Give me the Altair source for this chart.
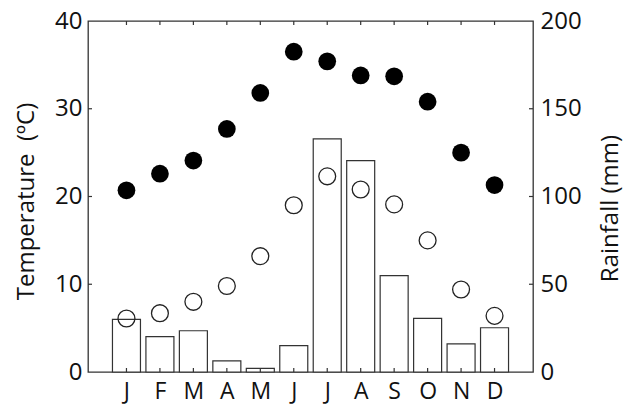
import altair as alt
import pandas as pd

months = ["J", "F", "M", "A", "M", "J", "J", "A", "S", "O", "N", "D"]
tmax = [20.7, 22.6, 24.1, 27.7, 31.8, 36.5, 35.4, 33.8, 33.7, 30.8, 25.0, 21.3]
tmin = [6.1, 6.7, 8.0, 9.8, 13.2, 19.0, 22.3, 20.8, 19.1, 15.0, 9.4, 6.4]
rain = [30.0, 20.1, 23.5, 6.3, 2.1, 15.0, 132.8, 120.4, 54.9, 30.6, 16.0, 25.2]
temp_ticks = [0, 10, 20, 30, 40]
rain_ticks = [0, 50, 100, 150, 200]

FONT = "Open Sans"
INK = "#333333"
TXT = "#111111"

df = pd.DataFrame({
    "idx": list(range(1, len(months) + 1)),
    "month": months,
    "tmax": tmax,
    "tmin": tmin,
    "rain": rain,
})
tdf = pd.DataFrame({"tv": temp_ticks[1:-1]})
rdf = pd.DataFrame({"rv": rain_ticks[1:-1]})

label_expr = "[" + ",".join("'%s'" % m for m in months) + "][datum.value - 1]"

xenc = alt.X(
    "idx:Q",
    scale=alt.Scale(domain=[0, len(months) + 1], nice=False, zero=False),
    axis=alt.Axis(
        values=list(range(1, len(months) + 1)), labelExpr=label_expr,
        ticks=False, domain=False, grid=False, title=None,
        labelFont=FONT, labelFontSize=23, labelColor=TXT, labelPadding=8,
    ),
)

axis_temp = alt.Axis(
    orient="left", values=temp_ticks, ticks=False, domain=False, grid=False,
    labelFont=FONT, labelFontSize=24, labelColor=TXT, labelPadding=6,
    title="Temperature\u00a0 (ºC)", titleFont=FONT, titleFontSize=24,
    titleFontWeight="normal", titleColor=TXT, titleAngle=270,
    titleX=-55, titleY=180, titleAlign="center", titleBaseline="alphabetic",
)
axis_rain = alt.Axis(
    orient="right", values=rain_ticks, ticks=False, domain=False, grid=False,
    labelFont=FONT, labelFontSize=24, labelColor=TXT, labelPadding=7,
    title="Rainfall (mm)", titleFont=FONT, titleFontSize=24,
    titleFontWeight="normal", titleColor=TXT, titleAngle=270,
    titleX=84, titleY=187, titleAlign="center", titleBaseline="alphabetic",
)
temp_scale = alt.Scale(domain=[0, 40], nice=False, zero=True)
rain_scale = alt.Scale(domain=[0, 200], nice=False, zero=True)


def ytemp(f):
    return alt.Y(f, scale=temp_scale, axis=axis_temp)


def yrain(f):
    return alt.Y(f, scale=rain_scale, axis=axis_rain)


bars = alt.Chart(df).mark_bar(
    size=28, fill="white", stroke=INK, strokeWidth=1.2
).encode(x=xenc, y=yrain("rain:Q"))

rticks = alt.Chart(rdf).mark_rule(color=INK, strokeWidth=1.2).encode(
    y=yrain("rv:Q"), x=alt.value(441), x2=alt.value(445)
)

bot_ticks = alt.Chart(df).mark_rule(color=INK, strokeWidth=1.2).encode(
    x=xenc, y=alt.value(351), y2=alt.value(347)
)
top_ticks = alt.Chart(df).mark_rule(color=INK, strokeWidth=1.2).encode(
    x=xenc, y=alt.value(0), y2=alt.value(4)
)

rain_layer = alt.layer(bars, rticks, bot_ticks, top_ticks)

pmax = alt.Chart(df).mark_circle(size=314, color="black", opacity=1).encode(
    x=xenc, y=ytemp("tmax:Q")
)
pmin = alt.Chart(df).mark_point(
    shape="circle", filled=False, size=285, stroke="#222222", strokeWidth=1.3, opacity=1
).encode(x=xenc, y=ytemp("tmin:Q"))
lticks = alt.Chart(tdf).mark_rule(color=INK, strokeWidth=1.2).encode(
    y=ytemp("tv:Q"), x=alt.value(0), x2=alt.value(4)
)

temp_layer = alt.layer(lticks, pmax, pmin)

chart = alt.layer(rain_layer, temp_layer).resolve_scale(
    y="independent"
).properties(
    width=445, height=351,
    autosize=alt.AutoSizeParams(type="none"),
    padding={"left": 88, "top": 21, "right": 92, "bottom": 34},
    background="white",
).configure_view(stroke=INK, strokeWidth=1.3)

chart.save("out.html", embed_options={"renderer": "svg", "actions": False})
